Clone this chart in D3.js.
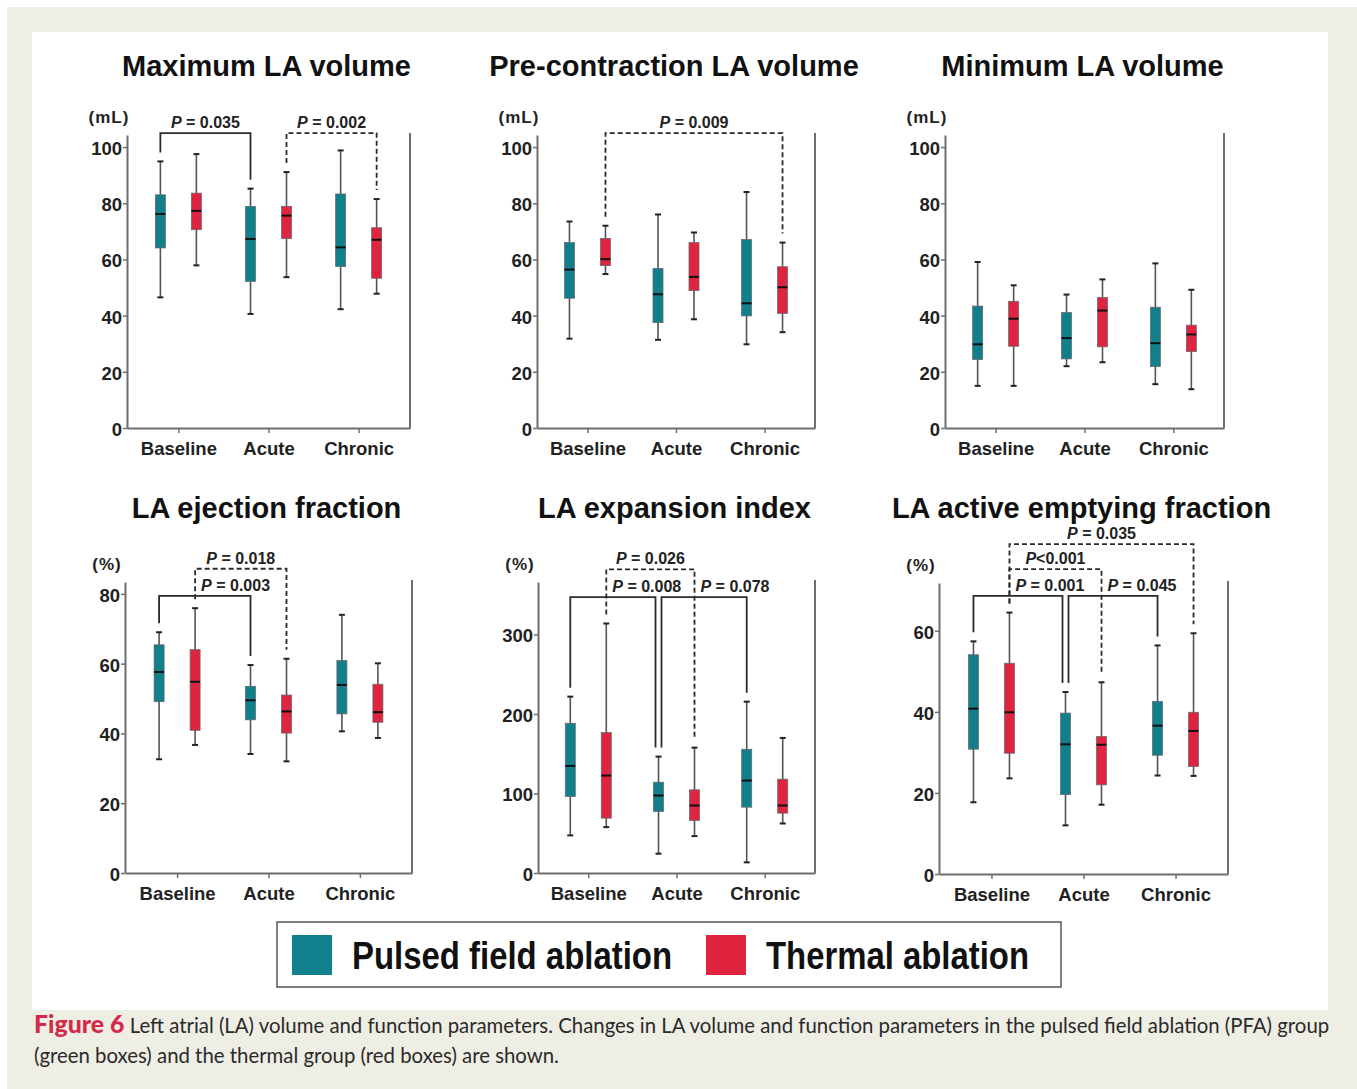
<!DOCTYPE html>
<html>
<head>
<meta charset="utf-8">
<script src="https://cdn.jsdelivr.net/npm/d3@7"></script>
<style>
  body { margin: 0; background: #fff; }
  svg { display: block; }
</style>
</head>
<body>
<svg id="fig" width="1357" height="1089"></svg>
<script>
// ---- data ----
const categories = ["Baseline", "Acute", "Chronic"];
const groups = ["Pulsed field ablation", "Thermal ablation"];
const titles = ["Maximum LA volume", "Pre-contraction LA volume", "Minimum LA volume",
                "LA ejection fraction", "LA expansion index", "LA active emptying fraction"];
const units = ["(mL)", "(mL)", "(mL)", "(%)", "(%)", "(%)"];
const tickSets = [
  [0, 20, 40, 60, 80, 100], [0, 20, 40, 60, 80, 100], [0, 20, 40, 60, 80, 100],
  [0, 20, 40, 60, 80], [0, 100, 200, 300], [0, 20, 40, 60]
];

// each box: [min, q1, median, q3, max] for Baseline, Acute, Chronic
const maxVolPfa      = [[46.5, 64.1, 76.2, 83.0, 94.9], [40.6, 52.2, 67.3, 78.9, 85.2], [42.3, 57.5, 64.3, 83.3, 98.8]];
const maxVolThermal  = [[57.9, 70.6, 77.3, 83.6, 97.5], [53.7, 67.4, 75.6, 78.9, 91.1], [47.8, 53.3, 67.0, 71.3, 81.5]];
const preVolPfa      = [[31.8, 46.2, 56.4, 66.0, 73.5], [31.4, 37.5, 47.6, 56.8, 76.0], [29.8, 39.9, 44.4, 67.1, 84.0]];
const preVolThermal  = [[54.8, 57.8, 60.1, 67.5, 72.0], [38.7, 48.9, 53.8, 66.0, 69.6], [34.1, 40.8, 50.1, 57.4, 66.0]];
const minVolPfa      = [[15.0, 24.4, 29.8, 43.4, 59.1], [22.0, 24.6, 32.0, 41.1, 47.5], [15.6, 21.9, 30.2, 43.0, 58.6]];
const minVolThermal  = [[15.0, 29.1, 38.9, 45.1, 50.8], [23.4, 28.9, 41.8, 46.5, 52.9], [13.8, 27.2, 33.3, 36.6, 49.2]];
const ejFracPfa      = [[32.6, 49.1, 57.6, 65.4, 69.0], [34.1, 43.9, 49.5, 53.5, 59.6], [40.6, 45.6, 53.9, 60.9, 74.0]];
const ejFracThermal  = [[36.7, 40.9, 54.8, 64.0, 75.9], [32.0, 40.1, 46.3, 51.0, 61.4], [38.7, 43.2, 46.1, 54.1, 60.1]];
const expIdxPfa      = [[47.3, 96.2, 134.7, 188.3, 221.8], [24.3, 77.4, 97.5, 114.2, 146.4], [13.4, 82.8, 116.3, 155.6, 215.5]];
const expIdxThermal  = [[57.7, 69.0, 122.6, 176.6, 313.8], [46.4, 66.1, 84.9, 104.6, 157.7], [62.3, 75.3, 84.9, 118.0, 169.9]];
const actEmpPfa      = [[17.7, 30.8, 40.8, 54.1, 57.4], [12.0, 19.6, 32.0, 39.7, 44.9], [24.3, 29.3, 36.6, 42.6, 56.4]];
const actEmpThermal  = [[23.6, 29.8, 39.9, 52.0, 64.5], [17.1, 22.0, 31.9, 33.9, 47.3], [24.2, 26.5, 35.3, 39.9, 59.4]];

// significance brackets: ends are [category, group index], y in data units
const maxVolBrackets = [
  { a: ["Baseline", 0], b: ["Acute", 0], y: 105, dashed: false, p: "= 0.035" },
  { a: ["Acute", 1], b: ["Chronic", 1], y: 105, dashed: true, p: "= 0.002" }
];
const preVolBrackets = [
  { a: ["Baseline", 1], b: ["Chronic", 1], y: 105, dashed: true, p: "= 0.009" }
];
const minVolBrackets = [];
const ejFracBrackets = [
  { a: ["Baseline", 0], b: ["Acute", 0], y: 79.4, dashed: false, p: "= 0.003" },
  { a: ["Baseline", 1], b: ["Acute", 1], y: 87.2, dashed: true, p: "= 0.018" }
];
const expIdxBrackets = [
  { a: ["Baseline", 0], b: ["Acute", 0], y: 347, dashed: false, p: "= 0.008" },
  { a: ["Acute", 0], b: ["Chronic", 0], y: 347, dashed: false, p: "= 0.078" },
  { a: ["Baseline", 1], b: ["Acute", 1], y: 382, dashed: true, p: "= 0.026" }
];
const actEmpBrackets = [
  { a: ["Baseline", 0], b: ["Acute", 0], y: 68.6, dashed: false, p: "= 0.001" },
  { a: ["Acute", 0], b: ["Chronic", 0], y: 68.6, dashed: false, p: "= 0.045" },
  { a: ["Baseline", 1], b: ["Acute", 1], y: 75.2, dashed: true, p: "<0.001" },
  { a: ["Baseline", 1], b: ["Chronic", 1], y: 81.4, dashed: true, p: "= 0.035" }
];

// ---- layout ----
const colors = ["#117f8c", "#e0233f"];
const FONT = "'Liberation Sans', Arial, Helvetica, sans-serif";
const layout = [
  { left: 127, right: 410, top: 135, bottom: 428, yMax: 104.3, titleY: 76 },
  { left: 537, right: 815, top: 135, bottom: 428, yMax: 104.3, titleY: 76 },
  { left: 945, right: 1224, top: 135, bottom: 428, yMax: 104.3, titleY: 76 },
  { left: 125, right: 412, top: 582, bottom: 873, yMax: 83.4, titleY: 518 },
  { left: 538, right: 815, top: 582, bottom: 873, yMax: 366, titleY: 518 },
  { left: 939, right: 1228, top: 583, bottom: 874, yMax: 71.8, titleY: 518 }
];

const panels = [
  { series: [maxVolPfa, maxVolThermal], brackets: maxVolBrackets },
  { series: [preVolPfa, preVolThermal], brackets: preVolBrackets },
  { series: [minVolPfa, minVolThermal], brackets: minVolBrackets },
  { series: [ejFracPfa, ejFracThermal], brackets: ejFracBrackets },
  { series: [expIdxPfa, expIdxThermal], brackets: expIdxBrackets },
  { series: [actEmpPfa, actEmpThermal], brackets: actEmpBrackets }
];

const svg = d3.select("#fig");

// page background and white figure area
svg.append("rect").attr("x", 7).attr("y", 7).attr("width", 1350).attr("height", 1082).attr("fill", "#efeee4");
svg.append("rect").attr("x", 32).attr("y", 32).attr("width", 1296).attr("height", 978).attr("fill", "#fff");

function drawPanel(p, L, i) {
  const g = svg.append("g");
  const x = d3.scalePoint().domain(categories).range([L.left, L.right]).padding(0.57);
  const off = d3.scalePoint().domain([0, 1]).range([-18, 18]);
  const y = d3.scaleLinear().domain([0, L.yMax]).range([L.bottom, L.top]);

  // title
  g.append("text")
    .attr("x", (L.left + L.right) / 2 - 2)
    .attr("y", L.titleY)
    .attr("text-anchor", "middle")
    .style("font", `bold 29px ${FONT}`)
    .attr("fill", "#111")
    .text(titles[i]);

  // unit
  g.append("text")
    .attr("x", L.left - 18)
    .attr("y", L.top - 12)
    .attr("text-anchor", "middle")
    .style("font", `bold 17px ${FONT}`)
    .style("letter-spacing", "1px")
    .attr("fill", "#222")
    .text(units[i]);

  // axes
  const yAxis = g.append("g")
    .attr("transform", `translate(${L.left},0)`)
    .call(d3.axisLeft(y).tickValues(tickSets[i]).tickSize(4).tickSizeOuter(0).tickPadding(1));
  const xAxis = g.append("g")
    .attr("transform", `translate(0,${L.bottom})`)
    .call(d3.axisBottom(x).tickSize(5).tickSizeOuter(0).tickPadding(9));
  [yAxis, xAxis].forEach(a => {
    a.select(".domain").attr("stroke", "#6e6e6e").attr("stroke-width", 2);
    a.selectAll(".tick line").attr("stroke", "#6e6e6e").attr("stroke-width", 1.5);
    a.selectAll(".tick text").style("font", `bold 18.5px ${FONT}`).attr("fill", "#222");
  });
  yAxis.selectAll(".tick text").attr("dy", "0.4em");
  // right frame line
  g.append("line")
    .attr("x1", L.right).attr("x2", L.right)
    .attr("y1", L.top - 2).attr("y2", L.bottom)
    .attr("stroke", "#6e6e6e").attr("stroke-width", 2);

  // boxes
  const boxes = categories.flatMap((c, ci) =>
    p.series.map((s, k) => ({ c, k, v: s[ci], cx: x(c) + off(k) })));
  const bg = g.selectAll("g.box").data(boxes).join("g").attr("class", "box");
  bg.append("line")
    .attr("x1", d => d.cx).attr("x2", d => d.cx)
    .attr("y1", d => y(d.v[0])).attr("y2", d => y(d.v[4]))
    .attr("stroke", "#555").attr("stroke-width", 1.6);
  bg.selectAll("line.cap").data(d => [d, d].map((e, j) => ({ cx: e.cx, val: e.v[j === 0 ? 0 : 4] })))
    .join("line").attr("class", "cap")
    .attr("x1", d => d.cx - 3).attr("x2", d => d.cx + 3)
    .attr("y1", d => y(d.val)).attr("y2", d => y(d.val))
    .attr("stroke", "#222").attr("stroke-width", 2);
  bg.append("rect")
    .attr("x", d => d.cx - 5).attr("width", 10)
    .attr("y", d => y(d.v[3])).attr("height", d => y(d.v[1]) - y(d.v[3]))
    .attr("fill", d => colors[d.k])
    .attr("stroke", "#6a6a6a").attr("stroke-width", 0.8);
  bg.append("line")
    .attr("x1", d => d.cx - 5).attr("x2", d => d.cx + 5)
    .attr("y1", d => y(d.v[2])).attr("y2", d => y(d.v[2]))
    .attr("stroke", "#111").attr("stroke-width", 2);

  // brackets
  const same = (e1, e2) => e1[0] === e2[0] && e1[1] === e2[1];
  const endX = e => x(e[0]) + off(e[1]);
  const topOf = e => y(p.series[e[1]][categories.indexOf(e[0])][4]) - 9;
  const dashedLegs = p.brackets.filter(b => b.dashed).flatMap(b => [endX(b.a), endX(b.b)]);

  p.brackets.forEach(br => {
    const shared = (end, key) => !br.dashed && p.brackets.some(o =>
      o !== br && !o.dashed && o.y === br.y && same(o[key], end));
    const xa = endX(br.a) + (shared(br.a, "b") ? 3 : 0);
    const xb = endX(br.b) - (shared(br.b, "a") ? 3 : 0);
    const yt = y(br.y);
    g.append("path")
      .attr("d", `M${xa},${topOf(br.a)}V${yt}H${xb}V${topOf(br.b)}`)
      .attr("fill", "none")
      .attr("stroke", "#2a2a2a")
      .attr("stroke-width", 1.8)
      .attr("stroke-dasharray", br.dashed ? "5,3" : null);

    const inside = br.dashed ? [] : dashedLegs.filter(v => v > xa + 1 && v < xb - 1);
    const t = g.append("text")
      .attr("y", yt - 5)
      .style("font", `bold 16px ${FONT}`)
      .attr("fill", "#222");
    if (inside.length) {
      t.attr("x", d3.min(inside) + 6).attr("text-anchor", "start");
    } else {
      t.attr("x", (xa + xb) / 2).attr("text-anchor", "middle");
    }
    t.append("tspan").style("font-style", "italic").text("P");
    t.append("tspan").text(br.p.startsWith("=") ? " " + br.p : br.p);
  });
}

panels.forEach((p, i) => drawPanel(p, layout[i], i));

// legend
const legend = svg.append("g");
legend.append("rect")
  .attr("x", 277).attr("y", 922).attr("width", 784).attr("height", 65)
  .attr("fill", "#fff").attr("stroke", "#555").attr("stroke-width", 1.5);
const legendX = [292, 706];
const legendW = [320, 263];
const li = legend.selectAll("g.item").data(groups).join("g").attr("class", "item")
  .attr("transform", (d, k) => `translate(${legendX[k]},0)`);
li.append("rect").attr("x", 0).attr("y", 935).attr("width", 40).attr("height", 40)
  .attr("fill", (d, k) => colors[k]);
li.append("text")
  .attr("x", 60).attr("y", 969)
  .style("font", `bold 38px ${FONT}`)
  .attr("fill", "#111")
  .attr("textLength", (d, k) => legendW[k])
  .attr("lengthAdjust", "spacingAndGlyphs")
  .text(d => d);

// caption
const capFont = "Lato, 'Open Sans', sans-serif";
const cap1 = svg.append("text").attr("x", 34).attr("y", 1033)
  .style("font", `19px ${capFont}`).attr("fill", "#2a2a2a");
cap1.append("tspan").style("font-weight", "900").style("font-size", "1.22em")
  .attr("fill", "#d42a4a").text("Figure 6");
cap1.append("tspan").text(" Left atrial (LA) volume and function parameters. Changes in LA volume and function parameters in the pulsed field ablation (PFA) group");
const cap2 = svg.append("text").attr("x", 34).attr("y", 1063)
  .style("font", `19px ${capFont}`).attr("fill", "#2a2a2a")
  .text("(green boxes) and the thermal group (red boxes) are shown.");
const w1 = cap1.node().getComputedTextLength();
const fs = 19 * 1296 / w1;
cap1.style("font-size", fs + "px");
cap2.style("font-size", fs + "px");
</script>
</body>
</html>
